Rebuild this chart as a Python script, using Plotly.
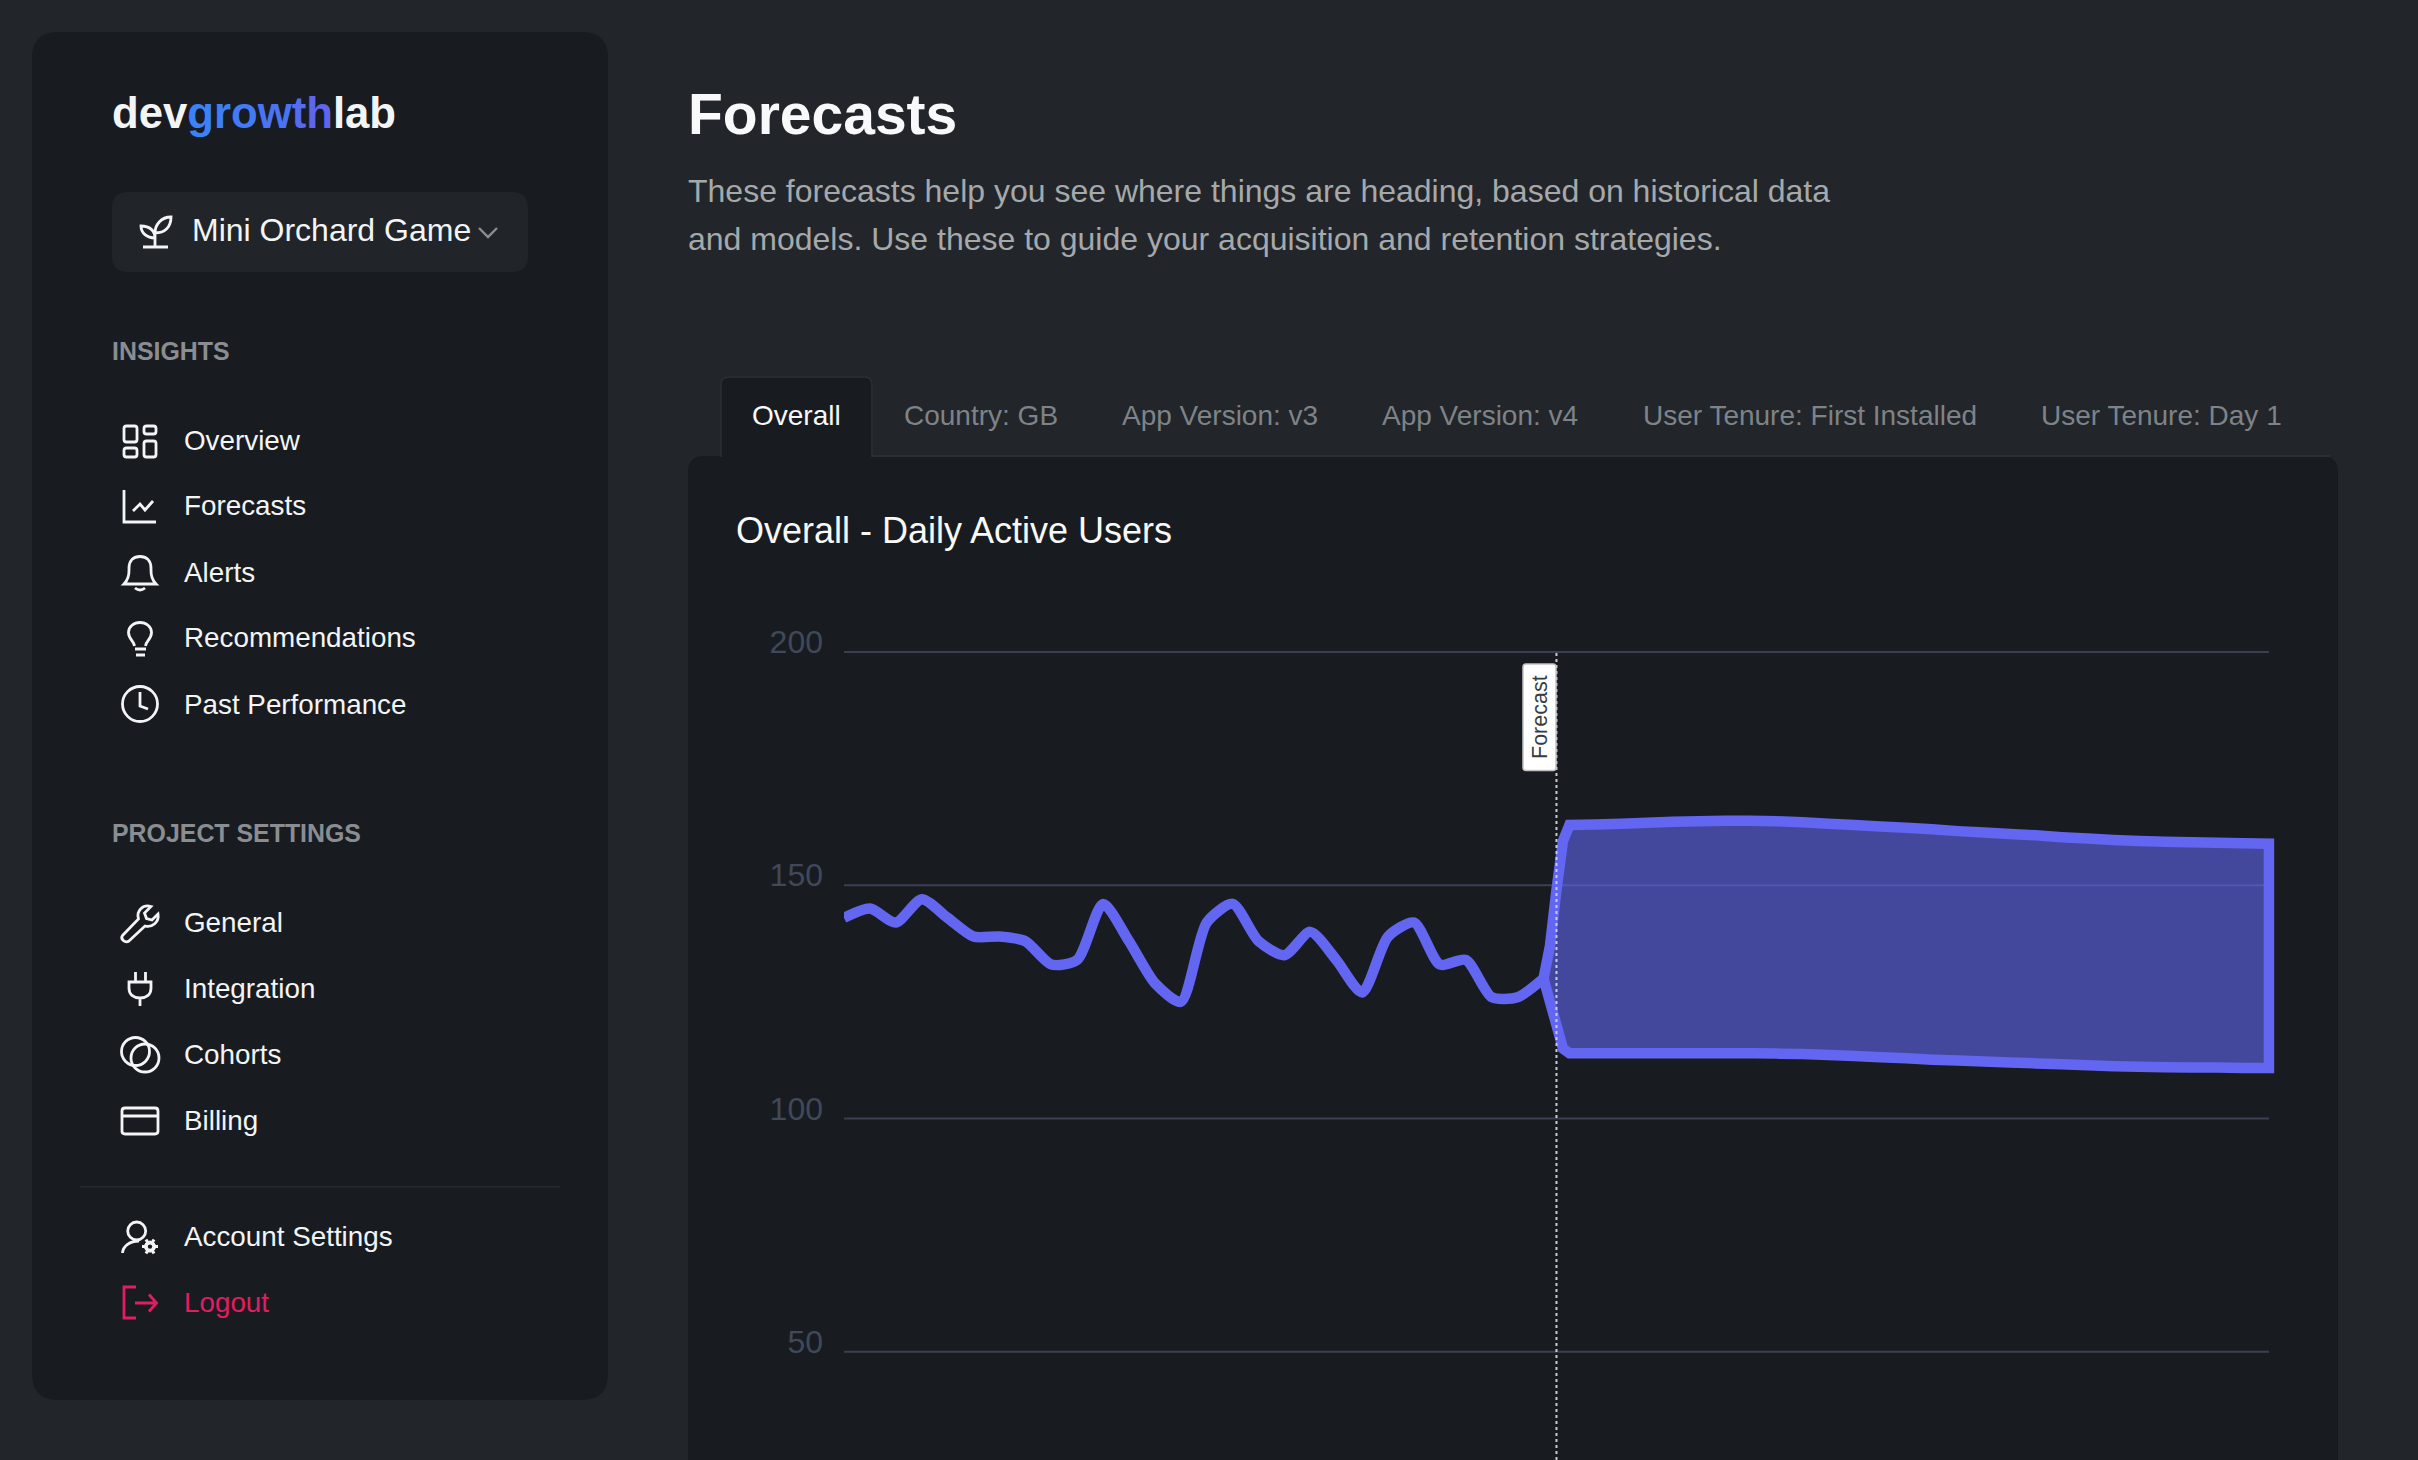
import re

import plotly.graph_objects as go

W = 2418
H = 1460

# chart values
history_day = list(range(28))
history_users = [143, 145, 142, 147, 143, 139, 139, 138, 133, 134, 146, 138, 129, 125,
                 142, 146, 138, 135, 140, 134, 127, 139, 142, 133, 134, 126, 126, 130]

forecast_day = [27, 27.25, 27.5, 27.75, 28, 29, 30, 31, 32, 33, 34, 35, 36, 37, 38, 39, 40, 41,
                42, 43, 44, 45, 46, 47, 48, 49, 50, 51, 52, 53, 54, 55]
forecast_upper = [130, 137, 149, 159.5, 162.9, 163, 163.2, 163.4, 163.6, 163.7, 163.8, 163.8, 163.7, 163.5,
                  163.2, 162.9, 162.6, 162.3, 162, 161.6, 161.3, 161, 160.7, 160.3, 160, 159.7, 159.5,
                  159.3, 159.2, 159.1, 159, 158.9]
forecast_lower = [130, 125, 120, 115, 114, 114, 114, 114, 114, 114, 114, 114, 113.9, 113.8,
                  113.6, 113.4, 113.1, 112.9, 112.6, 112.4, 112.2, 112, 111.8, 111.6, 111.4, 111.2, 111.1,
                  111, 110.9, 110.9, 110.8, 110.8]
forecast_start = 27.5

y_ticks = [50, 100, 150, 200]
tab_labels = ["Overall", "Country: GB", "App Version: v3", "App Version: v4",
              "User Tenure: First Installed", "User Tenure: Day 1"]
tab_left = [752, 904, 1122, 1382, 1643, 2041]
insight_items = ["Overview", "Forecasts", "Alerts", "Recommendations", "Past Performance"]
insight_y = [440, 506, 572, 638, 704]
settings_items = ["General", "Integration", "Cohorts", "Billing"]
settings_y = [922, 988, 1054, 1120]

PAGE_BG = "#22262a"
PANEL_BG = "#181c20"
INDIGO = "#6366f1"
FONT = "Liberation Sans"
ICON = "#f3f4f6"
PINK = "#e11d63"

shapes = []
notes = []


def path_px(d):
    # absolute pixel path -> paper coords
    out = []
    is_x = True
    for tok in re.findall(r"[A-Za-z]|-?[\d.]+", d):
        if tok.isalpha():
            out.append(tok)
            is_x = True
        else:
            val = float(tok)
            out.append(str(round(val / W if is_x else 1 - val / H, 5)))
            is_x = not is_x
    return " ".join(out)


def rounded(x0, y0, x1, y1, r):
    return (f"M {x0 + r} {y0} L {x1 - r} {y0} Q {x1} {y0} {x1} {y0 + r} L {x1} {y1 - r} Q {x1} {y1} {x1 - r} {y1} "
            f"L {x0 + r} {y1} Q {x0} {y1} {x0} {y1 - r} L {x0} {y0 + r} Q {x0} {y0} {x0 + r} {y0} Z")


def fill_path(d, color, line_color=None, width=0, layer="below"):
    shapes.append(dict(type="path", xref="paper", yref="paper", layer=layer, path=path_px(d), fillcolor=color,
                       line=dict(color=line_color or color, width=width)))


def stroke(d, color=ICON, width=2.8):
    shapes.append(dict(type="path", xref="paper", yref="paper", layer="below", path=path_px(d),
                       fillcolor="rgba(0,0,0,0)", line=dict(color=color, width=width)))


def circle(cx, cy, r, color=ICON, width=2.8, fill="rgba(0,0,0,0)"):
    shapes.append(dict(type="circle", xref="paper", yref="paper", layer="below",
                       x0=(cx - r) / W, x1=(cx + r) / W, y0=1 - (cy + r) / H, y1=1 - (cy - r) / H,
                       fillcolor=fill, line=dict(color=color, width=width)))


def label(text, x, y, size, color, anchor="left", angle=0):
    notes.append(dict(text=text, xref="paper", yref="paper", x=x / W, y=1 - y / H, xanchor=anchor, yanchor="middle",
                      showarrow=False, textangle=angle, borderpad=0, borderwidth=0,
                      font=dict(family=FONT, size=size, color=color)))


# panels
fill_path(rounded(32, 32, 608, 1400, 26), PANEL_BG)
fill_path(rounded(112, 192, 528, 272, 16), "#212529")
fill_path(rounded(688, 456, 2338, 1500, 16), PANEL_BG)
fill_path("M 872 455 L 2330 455 L 2330 457 L 872 457 Z", "#2b2f33")
fill_path("M 721 457 L 721 385 Q 721 377 729 377 L 864 377 Q 872 377 872 385 L 872 457", PANEL_BG, "#2b2f33", 1.5)
fill_path("M 80 1186 L 560 1186 L 560 1187.5 L 80 1187.5 Z", "#272b2f")

# logo, letter by letter for the gradient
grow_cols = ["#3b82f6", "#3e7ef6", "#437af5", "#4a74f3", "#556cf0", "#5e66ec"]
grow = "".join(f'<span style="color:{c}">{ch}</span>' for ch, c in zip("growth", grow_cols))
label(f"<b>dev{grow}lab</b>", 112, 112, 43.7, "#f3f4f6")

# selector
label("Mini Orchard Game", 192, 230, 32, "#f3f4f6")
stroke("M 479 228 L 488 237 L 497 228", "#8a8f94", 2.4)
stroke("M 143 247 L 168 247 M 155 247 L 155 233 C 155 225 161 217 171 217 C 171 227 165 233 155 233 "
       "M 155 238 C 155 231 150 226 141 226 C 141 233 147 238 155 238")

# sidebar text
label("<b>INSIGHTS</b>", 112, 351, 24.9, "#8a8d91")
label("<b>PROJECT SETTINGS</b>", 112, 833, 24.9, "#8a8d91")
for name, y in zip(insight_items + settings_items, insight_y + settings_y):
    label(name, 184, y, 27.8, "#f3f4f6")
label("Account Settings", 184, 1236, 27.8, "#f3f4f6")
label("Logout", 184, 1302, 27.8, PINK)

# icons
stroke(rounded(124, 426, 137, 442, 2.5))
stroke(rounded(144, 426, 156, 434, 2.5))
stroke(rounded(124, 448, 137, 457, 2.5))
stroke(rounded(144, 441, 156, 457, 2.5))
stroke("M 124 490 L 124 522 L 156 522 M 133 511 L 140 504 L 145 510 L 153 501")
stroke("M 124 584 C 130 578 129 572 129 568 C 129 560 134 556.5 140 556.5 C 146 556.5 151 560 151 568 "
       "C 151 572 150 578 156 584 Z M 135 588 Q 140 592 145 588")
stroke("M 134.5 646 C 134 641 128.5 639 128.5 632.5 C 128.5 626.5 134 622.5 140 622.5 C 146 622.5 151.5 626.5 "
       "151.5 632.5 C 151.5 639 146 641 145.5 646 M 135 649 L 146 649 M 136 655 L 145 655")
circle(140, 704, 17.5)
stroke("M 140 692 L 140 706 L 148 709")
stroke("M 122.5 935.5 L 138.5 919 C 136 911 143 904 151 906.5 L 144.5 913 L 146.5 918.5 L 152 920 L 158 914 "
       "C 159.5 922 152 928 145 926 L 129 941 C 125 943.5 120 939 122.5 935.5 Z")
stroke("M 129 982 L 151 982 L 151 988 C 151 995 146 998 140 998 C 134 998 129 995 129 988 Z "
       "M 135.5 972 L 135.5 982 M 145.5 972 L 145.5 982 M 140 998 L 140 1006")
circle(135.5, 1051.5, 14)
circle(145, 1058, 14)
stroke(rounded(122, 1108, 158, 1134, 3))
stroke("M 122 1116 L 158 1116")
circle(136.7, 1231, 9)
stroke("M 122.5 1253 C 123 1246 130 1241 139 1241")
stroke("M 142 1246.6 L 158 1246.6 M 146 1239.6 L 154 1253.6 M 154 1239.6 L 146 1253.6", width=3)
circle(150, 1246.6, 5.5, fill=ICON, width=1)
circle(150, 1246.6, 2.2, color=PANEL_BG, fill=PANEL_BG, width=0)
stroke("M 136 1287 L 124 1287 L 124 1318 L 136 1318 M 135 1303 L 156 1303 M 149 1294.5 L 156.5 1303 L 149 1311.5",
       PINK)

# page header
label("<b>Forecasts</b>", 688, 114, 57, "#f8f9fa")
label("These forecasts help you see where things are heading, based on historical data", 688, 191, 32, "#a6a9ab")
label("and models. Use these to guide your acquisition and retention strategies.", 688, 239, 32, "#a6a9ab")
for i, (tab, x) in enumerate(zip(tab_labels, tab_left)):
    label(tab, x, 415, 28, "#f8f9fa" if i == 0 else "#7e8388")
label("Overall - Daily Active Users", 736, 531, 36, "#f8f9fa")

# gridlines stop at the last day, the axis runs a little past it so the stroke is not cut
for tick in y_ticks:
    shapes.append(dict(type="line", xref="x", yref="y", x0=0, x1=55, y0=tick, y1=tick, layer="below",
                       line=dict(color="#3c3f53", width=2)))

# forecast marker
shapes.append(dict(type="line", xref="x", yref="y", x0=forecast_start, x1=forecast_start, y0=26.78, y1=200,
                   layer="above", line=dict(color="#c9ccd0", width=2, dash="3px,3px")))
fill_path(rounded(1523, 664, 1556, 770.5, 3), "#ffffff", "#c2c2c2", 1.5, layer="above")
label("Forecast", 1540, 717, 21.5, "#373d3f", anchor="center", angle=-90)

fig = go.Figure()
fig.add_trace(go.Scatter(x=history_day, y=history_users, mode="lines", cliponaxis=False,
                         line=dict(color=INDIGO, width=10.5, shape="spline", smoothing=0.7, simplify=False)))
fig.add_trace(go.Scatter(x=forecast_day + forecast_day[::-1], y=forecast_upper + forecast_lower[::-1],
                         mode="lines", fill="toself", fillcolor="rgba(99,102,241,0.6)", cliponaxis=False,
                         line=dict(color=INDIGO, width=10.5, simplify=False)))

fig.update_layout(
    width=W, height=H, margin=dict(l=0, r=0, t=0, b=0, pad=0),
    paper_bgcolor=PAGE_BG, plot_bgcolor="rgba(0,0,0,0)",
    showlegend=False, hovermode=False,
    shapes=shapes, annotations=notes,
    xaxis=dict(domain=[844 / W, 2285 / W], range=[0, 55.62], visible=False, fixedrange=True, automargin=False),
    yaxis=dict(domain=[0, (H - 645) / H], range=[26.78, 201.5], tickvals=y_ticks, fixedrange=True, automargin=False,
               showline=False, ticks="", zeroline=False, showgrid=False,
               tickfont=dict(family=FONT, size=32, color="#414859"),
               ticklabelstandoff=20, ticklabelshift=-10),
)

fig.write_html("out.html", config=dict(displayModeBar=False),
               post_script="document.body.style.margin='0';document.body.style.overflow='hidden';")
